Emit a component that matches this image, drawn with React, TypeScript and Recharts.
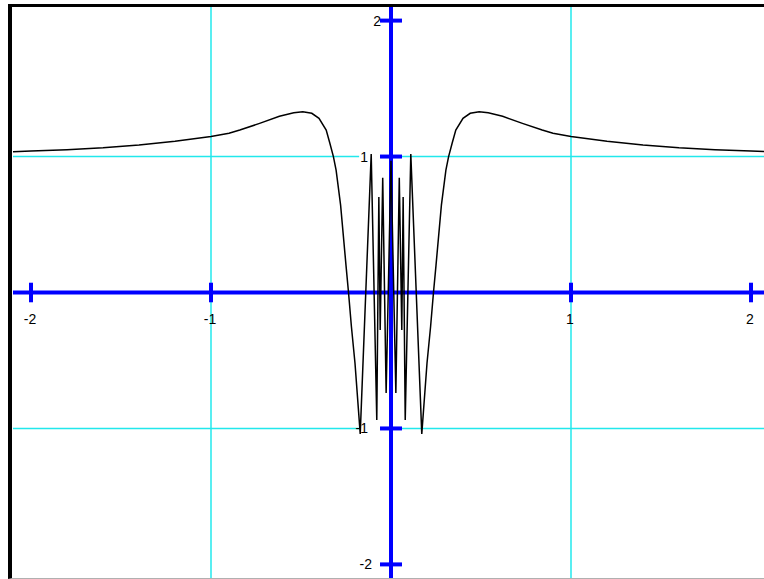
import React from 'react';
import {Line, LineChart, ReferenceDot, ReferenceLine, XAxis, YAxis} from 'recharts';

const xValues = [
    -2.1, -2.0, -1.8, -1.6, -1.4, -1.2, -1.0, -0.9, -0.84, -0.73, -0.62, -0.54, -0.49,
    -0.44, -0.4, -0.36, -0.34, -0.32, -0.305, -0.28, -0.25, -0.236, -0.22, -0.2, -0.171,
    -0.11, -0.079, -0.0675, -0.06, -0.046, -0.027, 0, 0.027, 0.046, 0.06, 0.0675, 0.079, 0.11,
    0.171, 0.2, 0.22, 0.236, 0.25, 0.28, 0.305, 0.32, 0.34, 0.36, 0.4, 0.44,
    0.49, 0.54, 0.62, 0.73, 0.84, 0.9, 1.0, 1.2, 1.4, 1.6, 1.8, 2.0, 2.1,
];
const yValues = [
    1.036, 1.04, 1.05, 1.064, 1.085, 1.112, 1.148, 1.172, 1.195, 1.244, 1.296, 1.322, 1.33,
    1.318, 1.281, 1.195, 1.1, 1.0, 0.9, 0.643, 0.2, 0, -0.25, -0.52, -1.04,
    1.018, -0.938, 0.702, -0.276, 0.844, -0.739, 0.969, -0.739, 0.844, -0.276, 0.702, -0.938, 1.018,
    -1.04, -0.52, -0.25, 0, 0.2, 0.643, 0.9, 1.0, 1.1, 1.195, 1.281, 1.318,
    1.33, 1.322, 1.296, 1.244, 1.195, 1.172, 1.148, 1.112, 1.085, 1.064, 1.05, 1.04, 1.036,
];
const xTicks = [-2, -1, 1, 2];
const yTicks = [-2, -1, 1, 2];
const gridValues = [-1, 1];

const curve = xValues.map((x, i) => ({x, y: yValues[i]}));

const DOMAIN: [number, number] = [-2.1, 2.1];
const BLUE = '#0000ff';
const CYAN = '#22e8ec';
const FONT = '"Liberation Sans", Arial, sans-serif';
// gap in the horizontal grid lines where the y labels sit
const GAP_LEFT = -0.177;
const GAP_RIGHT = -0.055;
const X_TICK_HALF = 0.072;
const Y_TICK_HALF = 0.061;
// right edge of the y labels, px left of the axis
const yLabelEnd: Record<number, number> = {2: 10, 1: 23, [-1]: 23, [-2]: 19};

export default function App() {
    return (
        <div style={{position: 'absolute', left: 8, top: 4, width: 756, height: 575, overflow: 'hidden'}}>
            <div style={{
                width: 760,
                height: 571,
                borderLeft: '4px solid #000',
                borderTop: '3px solid #000',
                borderBottom: '1px solid #b0b0b0',
            }}>
                <LineChart width={757} height={571} data={curve} margin={{top: 0, right: 0, bottom: 0, left: 1}}>
                    <XAxis type="number" dataKey="x" domain={DOMAIN} allowDataOverflow hide/>
                    <YAxis type="number" domain={DOMAIN} allowDataOverflow hide/>

                    {gridValues.map(v => (
                        <ReferenceLine key={'gx' + v} x={v} stroke={CYAN} strokeWidth={1.5}/>
                    ))}
                    {gridValues.map(v => (
                        <ReferenceLine key={'gyl' + v} segment={[{x: DOMAIN[0], y: v}, {x: GAP_LEFT, y: v}]}
                                       stroke={CYAN} strokeWidth={1.5}/>
                    ))}
                    {gridValues.map(v => (
                        <ReferenceLine key={'gyr' + v} segment={[{x: GAP_RIGHT, y: v}, {x: DOMAIN[1], y: v}]}
                                       stroke={CYAN} strokeWidth={1.5}/>
                    ))}

                    <ReferenceLine y={0} stroke={BLUE} strokeWidth={4}/>
                    <ReferenceLine x={0} stroke={BLUE} strokeWidth={4}/>
                    {xTicks.map(v => (
                        <ReferenceLine key={'tx' + v} segment={[{x: v, y: -X_TICK_HALF}, {x: v, y: X_TICK_HALF}]}
                                       stroke={BLUE} strokeWidth={4}/>
                    ))}
                    {yTicks.map(v => (
                        <ReferenceLine key={'ty' + v} segment={[{x: -Y_TICK_HALF, y: v}, {x: Y_TICK_HALF, y: v}]}
                                       stroke={BLUE} strokeWidth={4}/>
                    ))}

                    {xTicks.map(v => (
                        <ReferenceDot key={'lx' + v} x={v} y={0} r={0}
                                      shape={(p: any) => (
                                          <text x={p.cx - 1} y={p.cy + 31} textAnchor="middle"
                                                fontFamily={FONT} fontSize={14} fill="#000">{v}</text>
                                      )}/>
                    ))}
                    {yTicks.map(v => (
                        <ReferenceDot key={'ly' + v} x={0} y={v} r={0}
                                      shape={(p: any) => (
                                          <text x={p.cx - yLabelEnd[v]} y={p.cy + 5} textAnchor="end"
                                                fontFamily={FONT} fontSize={14} fill="#000">{v}</text>
                                      )}/>
                    ))}

                    <Line type="linear" dataKey="y" stroke="#000" strokeWidth={1.5} dot={false}
                          zIndex={1000} isAnimationActive={false}/>
                </LineChart>
            </div>
        </div>
    );
}
